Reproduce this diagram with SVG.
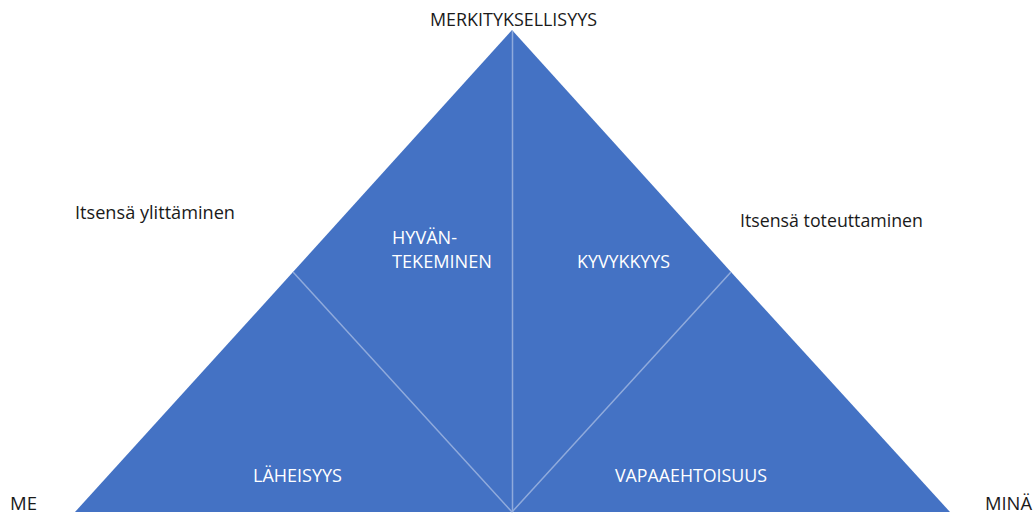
<svg xmlns="http://www.w3.org/2000/svg" width="1035" height="515" viewBox="0 0 1035 515">
<style>
.seg{fill:#4472C4;stroke:none}
.div{stroke:#8FAADC;stroke-width:1.5;fill:none}
.lbl{font-family:"Open Sans","Liberation Sans",sans-serif;font-size:18px}
.in{fill:#FFFFFF}
.out{fill:#1A1A1A}
</style>
<rect width="1035" height="515" fill="#FFFFFF"/>
<g id="node-laheisyys">
<polygon class="seg" points="75,512 293,272 512,512"/>
<text class="lbl in" x="253" y="482" textLength="89" lengthAdjust="spacingAndGlyphs">LÄHEISYYS</text>
</g>
<g id="node-hyvantekeminen">
<polygon class="seg" points="293,272 512,30 512,512"/>
<text class="lbl in" x="392" y="244" textLength="65" lengthAdjust="spacingAndGlyphs">HYVÄN-</text>
<text class="lbl in" x="392" y="268" textLength="100" lengthAdjust="spacingAndGlyphs">TEKEMINEN</text>
</g>
<g id="node-kyvykkyys">
<polygon class="seg" points="512,30 731,272 512,512"/>
<text class="lbl in" x="577" y="268" textLength="93" lengthAdjust="spacingAndGlyphs">KYVYKKYYS</text>
</g>
<g id="node-vapaaehtoisuus">
<polygon class="seg" points="731,272 950,512 512,512"/>
<text class="lbl in" x="615" y="482" textLength="152" lengthAdjust="spacingAndGlyphs">VAPAAEHTOISUUS</text>
</g>
<g id="connectors">
<line class="div" x1="512.5" y1="31" x2="512.5" y2="512"/>
<line class="div" x1="293" y1="272" x2="512" y2="512"/>
<line class="div" x1="731" y1="272" x2="512" y2="512"/>
</g>
<g id="labels">
<text class="lbl out" x="430" y="26" textLength="167" lengthAdjust="spacingAndGlyphs">MERKITYKSELLISYYS</text>
<text class="lbl out" x="10" y="510" textLength="27" lengthAdjust="spacingAndGlyphs">ME</text>
<text class="lbl out" x="985" y="510" textLength="47" lengthAdjust="spacingAndGlyphs">MINÄ</text>
<text class="lbl out" x="75" y="219" textLength="160" lengthAdjust="spacingAndGlyphs">Itsensä ylittäminen</text>
<text class="lbl out" x="740" y="227" textLength="183" lengthAdjust="spacingAndGlyphs">Itsensä toteuttaminen</text>
</g>
</svg>
